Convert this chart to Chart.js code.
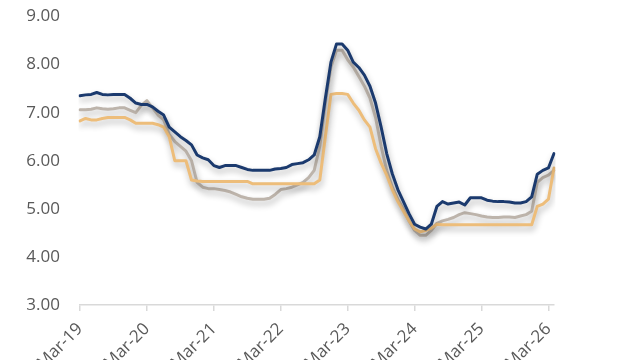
<!DOCTYPE html>
<html>
<head>
<meta charset="utf-8">
<script src="https://cdn.jsdelivr.net/npm/chart.js@4/dist/chart.umd.min.js"></script>
<style>
html,body{margin:0;padding:0;background:#fff;overflow:hidden;}
#wrap{width:640px;height:360px;}
</style>
</head>
<body>
<div id="wrap"><canvas id="c" width="640" height="360"></canvas></div>
<script>
// Monthly categories, Mar-19 .. Apr-26
const monthNames = ["Jan","Feb","Mar","Apr","May","Jun","Jul","Aug","Sep","Oct","Nov","Dec"];
const categories = [];
for (let y = 19; y <= 26; y++) {
  for (let m = 0; m < 12; m++) {
    if (y === 19 && m < 2) continue;
    if (y === 26 && m > 3) continue;
    categories.push(monthNames[m] + "-" + y);
  }
}
const yTickLabels = ["3.00","4.00","5.00","6.00","7.00","8.00","9.00"];

const seriesBlue = [
  7.35,7.37,7.38,7.42,7.38,7.37,7.38,7.38,7.38,7.30,7.20,7.17,
  7.17,7.12,7.03,6.95,6.70,6.60,6.50,6.42,6.33,6.12,6.06,6.02,
  5.90,5.86,5.90,5.90,5.90,5.86,5.82,5.80,5.80,5.80,5.80,5.83,
  5.84,5.86,5.92,5.94,5.96,6.02,6.12,6.50,7.30,8.05,8.43,8.43,
  8.30,8.05,7.94,7.78,7.55,7.20,6.70,6.15,5.73,5.40,5.15,4.90,
  4.68,4.62,4.58,4.68,5.05,5.15,5.10,5.12,5.14,5.08,5.23,5.23,
  5.23,5.18,5.16,5.15,5.15,5.14,5.12,5.12,5.15,5.25,5.72,5.80,
  5.85,6.15
];
const seriesGray = [
  7.06,7.06,7.07,7.10,7.08,7.07,7.08,7.10,7.10,7.05,7.00,7.15,
  7.25,7.10,6.95,6.85,6.55,6.40,6.30,6.20,6.00,5.55,5.45,5.42,
  5.42,5.40,5.38,5.35,5.30,5.25,5.22,5.20,5.20,5.20,5.22,5.30,
  5.40,5.42,5.45,5.50,5.55,5.65,5.80,6.30,7.20,7.95,8.30,8.30,
  8.10,7.95,7.75,7.55,7.30,6.90,6.30,5.80,5.45,5.20,5.00,4.75,
  4.55,4.45,4.45,4.55,4.70,4.75,4.78,4.82,4.88,4.92,4.90,4.88,
  4.85,4.83,4.82,4.82,4.83,4.83,4.82,4.85,4.88,4.95,5.55,5.65,
  5.70,5.80
];
const seriesOrange = [
  6.83,6.88,6.85,6.85,6.88,6.90,6.90,6.90,6.90,6.85,6.78,6.78,
  6.78,6.78,6.75,6.70,6.50,6.00,6.00,6.00,5.60,5.58,5.57,5.57,
  5.57,5.57,5.57,5.57,5.57,5.57,5.57,5.52,5.52,5.52,5.52,5.52,
  5.52,5.52,5.52,5.52,5.52,5.52,5.52,5.60,6.50,7.38,7.40,7.40,
  7.38,7.20,7.05,6.85,6.70,6.25,5.95,5.70,5.40,5.15,4.95,4.75,
  4.58,4.52,4.55,4.60,4.68,4.67,4.67,4.67,4.67,4.67,4.67,4.67,
  4.67,4.67,4.67,4.67,4.67,4.67,4.67,4.67,4.67,4.67,5.05,5.10,
  5.20,5.85
];

const shadowPlugin = {
  id: 'shadow',
  beforeDatasetDraw(chart) {
    const ctx = chart.ctx;
    ctx.save();
    ctx.shadowColor = 'rgba(0,0,0,0.30)';
    ctx.shadowBlur = 6;
    ctx.shadowOffsetX = 1;
    ctx.shadowOffsetY = 4;
  },
  afterDatasetDraw(chart) {
    chart.ctx.restore();
  }
};

const tickColor = '#595959';
const fontFamily = '"Open Sans", "Noto Sans", sans-serif';

new Chart(document.getElementById('c'), {
  type: 'line',
  data: {
    labels: categories,
    datasets: [
      { label: 'A', data: seriesBlue, borderColor: '#1B3A6E', borderWidth: 3, order: 1 },
      { label: 'C', data: seriesOrange, borderColor: '#EDBD7A', borderWidth: 3, order: 2 },
      { label: 'B', data: seriesGray, borderColor: '#BDB4AB', borderWidth: 3, order: 3 }
    ]
  },
  options: {
    responsive: false,
    animation: false,
    layout: { padding: { left: 0, right: 86, top: 16.5, bottom: 0 } },
    elements: { point: { radius: 0 }, line: { tension: 0, borderCapStyle: 'round', borderJoinStyle: 'round' } },
    plugins: { legend: { display: false }, tooltip: { enabled: false } },
    scales: {
      x: {
        type: 'category',
        offset: false,
        grid: {
          display: true,
          drawOnChartArea: false,
          drawTicks: true,
          tickLength: 6,
          lineWidth: 1.5,
          color: (c) => (c.index % 12 === 0 ? '#D9D9D9' : 'rgba(0,0,0,0)')
        },
        border: { display: true, color: '#D9D9D9', width: 1.5 },
        ticks: {
          autoSkip: false,
          maxRotation: 45,
          minRotation: 45,
          padding: 8,
          color: tickColor,
          font: { family: fontFamily, size: 17 },
          callback: function(v, i) { return i % 12 === 0 ? categories[i] : ''; }
        },
        afterFit: (s) => { s.height = 55; s.paddingLeft = 0; s.paddingRight = 0; }
      },
      y: {
        min: 3,
        max: 9,
        grid: { display: false, drawTicks: false },
        border: { display: false },
        ticks: {
          stepSize: 1,
          padding: 20,
          color: tickColor,
          font: { family: fontFamily, size: 17 },
          callback: function(v) { return yTickLabels[Math.round(v - 3)]; }
        },
        afterFit: (s) => { s.width = 80; s.paddingTop = 0; s.paddingBottom = 0; }
      }
    }
  },
  plugins: [shadowPlugin]
});
</script>
</body>
</html>
